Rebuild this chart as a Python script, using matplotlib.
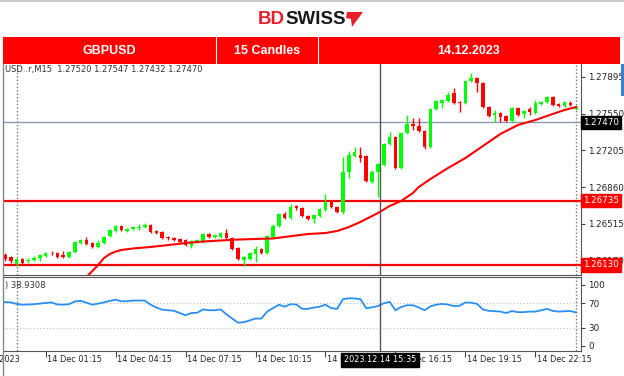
import matplotlib
matplotlib.use("Agg")
import matplotlib.pyplot as plt
from matplotlib.patches import Rectangle, Polygon
from matplotlib.transforms import blended_transform_factory

W, H = 624, 376

# GBPUSD M15, bar index 0 = 14 Dec 2023 00:00
bars = list(range(-2, 97))
opens = [1.26224, 1.26205, 1.26139, 1.26186, 1.26167, 1.26177, 1.26195, 1.26214, 1.26247, 1.26242,
         1.26224, 1.26205, 1.26252, 1.26336, 1.26364, 1.26336, 1.26299, 1.26336, 1.26402, 1.26449,
         1.26496, 1.26449, 1.26468, 1.26477, 1.26486, 1.26505, 1.26449, 1.26440, 1.26393, 1.26383,
         1.26374, 1.26364, 1.26308, 1.26346, 1.26346, 1.26421, 1.26393, 1.26393, 1.26430, 1.26383,
         1.26289, 1.26177, 1.26186, 1.26233, 1.26280, 1.26242, 1.26393, 1.26496, 1.26609, 1.26571,
         1.26684, 1.26665, 1.26590, 1.26562, 1.26590, 1.26646, 1.26731, 1.26674, 1.26628, 1.27003,
         1.27153, 1.27162, 1.27153, 1.26909, 1.27003, 1.27069, 1.27266, 1.27332, 1.27041, 1.27369,
         1.27454, 1.27435, 1.27388, 1.27238, 1.27594, 1.27651, 1.27670, 1.27745, 1.27660, 1.27651,
         1.27857, 1.27886, 1.27839, 1.27613, 1.27538, 1.27557, 1.27529, 1.27482, 1.27604, 1.27548,
         1.27594, 1.27557, 1.27641, 1.27660, 1.27707, 1.27641, 1.27623, 1.27651, 1.27594]
highs = [1.26242, 1.26214, 1.26195, 1.26195, 1.26195, 1.26214, 1.26233, 1.26252, 1.26266, 1.26252,
         1.26261, 1.26261, 1.26355, 1.26374, 1.26393, 1.26346, 1.26364, 1.26402, 1.26468, 1.26505,
         1.26505, 1.26477, 1.26496, 1.26515, 1.26524, 1.26515, 1.26458, 1.26449, 1.26402, 1.26393,
         1.26383, 1.26374, 1.26364, 1.26374, 1.26430, 1.26430, 1.26421, 1.26440, 1.26468, 1.26393,
         1.26299, 1.26214, 1.26252, 1.26308, 1.26289, 1.26411, 1.26515, 1.26618, 1.26628, 1.26702,
         1.26693, 1.26674, 1.26599, 1.26609, 1.26665, 1.26796, 1.26740, 1.26684, 1.27144, 1.27200,
         1.27238, 1.27238, 1.27162, 1.27022, 1.27088, 1.27275, 1.27379, 1.27341, 1.27379, 1.27538,
         1.27510, 1.27510, 1.27397, 1.27604, 1.27679, 1.27688, 1.27754, 1.27792, 1.27670, 1.27867,
         1.27933, 1.27895, 1.27848, 1.27623, 1.27585, 1.27566, 1.27538, 1.27613, 1.27613, 1.27585,
         1.27613, 1.27679, 1.27670, 1.27717, 1.27717, 1.27651, 1.27670, 1.27670, 1.27623]
lows = [1.26167, 1.26149, 1.26120, 1.26139, 1.26149, 1.26167, 1.26167, 1.26205, 1.26224, 1.26195,
        1.26195, 1.26195, 1.26242, 1.26327, 1.26317, 1.26289, 1.26289, 1.26327, 1.26393, 1.26440,
        1.26449, 1.26440, 1.26458, 1.26458, 1.26477, 1.26430, 1.26421, 1.26374, 1.26364, 1.26355,
        1.26336, 1.26308, 1.26289, 1.26336, 1.26336, 1.26383, 1.26383, 1.26383, 1.26374, 1.26271,
        1.26177, 1.26120, 1.26177, 1.26158, 1.26233, 1.26233, 1.26383, 1.26486, 1.26562, 1.26562,
        1.26646, 1.26580, 1.26552, 1.26524, 1.26580, 1.26637, 1.26665, 1.26618, 1.26609, 1.26946,
        1.27144, 1.27097, 1.26909, 1.26900, 1.26768, 1.27059, 1.27256, 1.27031, 1.27031, 1.27360,
        1.27397, 1.27379, 1.27219, 1.27228, 1.27585, 1.27604, 1.27660, 1.27641, 1.27566, 1.27641,
        1.27848, 1.27754, 1.27604, 1.27519, 1.27472, 1.27472, 1.27472, 1.27472, 1.27529, 1.27510,
        1.27538, 1.27548, 1.27632, 1.27651, 1.27623, 1.27613, 1.27613, 1.27623, 1.27585]
closes = [1.26186, 1.26167, 1.26186, 1.26149, 1.26181, 1.26195, 1.26224, 1.26242, 1.26238, 1.26205,
          1.26205, 1.26252, 1.26346, 1.26364, 1.26327, 1.26299, 1.26336, 1.26393, 1.26458, 1.26496,
          1.26458, 1.26468, 1.26486, 1.26491, 1.26505, 1.26440, 1.26430, 1.26383, 1.26379, 1.26364,
          1.26350, 1.26317, 1.26355, 1.26364, 1.26421, 1.26393, 1.26411, 1.26430, 1.26383, 1.26280,
          1.26186, 1.26205, 1.26242, 1.26280, 1.26242, 1.26402, 1.26496, 1.26609, 1.26571, 1.26674,
          1.26665, 1.26590, 1.26562, 1.26599, 1.26655, 1.26721, 1.26674, 1.26628, 1.27003, 1.27162,
          1.27191, 1.27134, 1.26918, 1.27003, 1.27078, 1.27266, 1.27332, 1.27041, 1.27369, 1.27454,
          1.27435, 1.27388, 1.27238, 1.27594, 1.27670, 1.27679, 1.27726, 1.27651, 1.27651, 1.27857,
          1.27886, 1.27839, 1.27613, 1.27529, 1.27557, 1.27519, 1.27482, 1.27604, 1.27538, 1.27576,
          1.27566, 1.27651, 1.27660, 1.27707, 1.27632, 1.27623, 1.27660, 1.27632, 1.27613]

# moving average
ma_bars = [11, 12, 13, 14, 15, 16, 17, 18, 20, 23, 26, 29, 32, 35, 38, 41, 44, 46, 48, 50,
           53, 55, 57, 59, 61, 62, 64, 66, 68, 69, 71, 74, 77, 80, 83, 86, 89, 92, 94, 96]
ma_vals = [1.25970, 1.26017, 1.26073, 1.26130, 1.26195, 1.26233, 1.26256, 1.26271, 1.26285, 1.26299,
           1.26317, 1.26336, 1.26350, 1.26360, 1.26369, 1.26374, 1.26379, 1.26393, 1.26407, 1.26421,
           1.26430, 1.26449, 1.26486, 1.26534, 1.26590, 1.26618, 1.26684, 1.26731, 1.26806, 1.26862,
           1.26937, 1.27040, 1.27134, 1.27247, 1.27360, 1.27444, 1.27491, 1.27548, 1.27585, 1.27613]

rsi = [72, 71.5, 69, 67.7, 68, 68.5, 69.5, 70.5, 71.4, 68,
       67.7, 68.6, 73, 74, 71, 67.7, 69.5, 71.4, 74, 76,
       73.2, 73.5, 74.5, 74.5, 74.5, 67.7, 63, 59.5, 58.6, 57.7,
       54, 50.5, 54, 54.5, 60, 58.6, 58.6, 60, 52, 45,
       38.2, 39, 42, 45, 45, 56.4, 62, 67.7, 64.5, 68.6,
       68, 60.9, 60.9, 63, 64.5, 67.7, 62, 60.9, 76.8, 78.2,
       78, 76.8, 61.8, 63.5, 65.5, 70, 72.3, 58.6, 64, 66.8,
       66.8, 63, 58.6, 65, 67.7, 69, 68, 65.5, 66, 71.4,
       71, 69, 60, 57.7, 57, 56.4, 54, 57.3, 55.5, 55.5,
       56.4, 56.4, 58.6, 60.9, 57.5, 56.4, 57, 57.3, 55]

price_ticks = [1.27895, 1.27550, 1.27205, 1.26860, 1.26515, 1.26170]
rsi_ticks = [100, 70, 30, 0]
level_lines = [1.26735, 1.26130]
bid_price = 1.27470
time_bars = [-8.5, 5, 17, 29, 41, 53, 65, 77, 89]
time_labels = ["13 Dec 2023", "14 Dec 01:15", "14 Dec 04:15", "14 Dec 07:15", "14 Dec 10:15",
               "14 Dec 13:15", "14 Dec 16:15", "14 Dec 19:15", "14 Dec 22:15"]
cross_bar = 62.33
cross_label = "2023.12.14 15:35"
day_seps = [0, 96]

GREEN = "#00ff00"
RED = "#ff0000"
plt.rcParams["font.family"] = ["DejaVu Sans"]


def box(x0, y0, x1, y1):
    return [x0 / W, 1 - y1 / H, (x1 - x0) / W, (y1 - y0) / H]


fig = plt.figure(figsize=(W / 100, H / 100), dpi=100)
fig.patch.set_facecolor("white")

xlim = (-2.32, 96.83)

# ---- price panel
ax = fig.add_axes(box(3, 64, 581, 275))
for b, o, h, l, c in zip(bars, opens, highs, lows, closes):
    col = GREEN if c >= o else RED
    ax.vlines(b, l, h, color=col, lw=1, zorder=3)
    ax.bar(b, max(abs(c - o), 0.00003), bottom=min(o, c), width=0.62, color=col, lw=0, zorder=4)
ax.plot(ma_bars, ma_vals, color=RED, lw=1.5, zorder=5)
for lv in level_lines:
    ax.axhline(lv, color=RED, lw=1.6, zorder=2)
ax.axhline(bid_price, color="#8a9ab0", lw=1, zorder=2)
for d in day_seps:
    ax.axvline(d, color="#777777", lw=1, ls=(0, (1, 1.5)), zorder=1)
ax.axvline(cross_bar, color="#555555", lw=1, zorder=6)

ax.set_xticks([])
ax.yaxis.tick_right()
ax.set_yticks(price_ticks)
ax.set_yticklabels(["%.5f" % p for p in price_ticks], fontsize=6.3, color="#222222")
ax.tick_params(axis="y", length=3, width=0.8, pad=2, color="#444444")
ax.set_xlim(*xlim)
ax.set_ylim(1.26036, 1.28017)
for s in ["top", "left"]:
    ax.spines[s].set_visible(False)
ax.spines["right"].set_color("#555555")
ax.spines["bottom"].set_color("#555555")

tr = blended_transform_factory(ax.transAxes, ax.transData)
for lv in level_lines:
    ax.text(1.003, lv, "%.5f" % lv, transform=tr, fontsize=6.3, color="white", va="center",
            ha="left", bbox=dict(boxstyle="square,pad=0.25", fc=RED, ec=RED), zorder=10, clip_on=False)
ax.text(1.003, bid_price, "%.5f" % bid_price, transform=tr, fontsize=6.3, color="white", va="center",
        ha="left", bbox=dict(boxstyle="square,pad=0.25", fc="black", ec="black"), zorder=10, clip_on=False)

# ---- RSI panel
ax2 = fig.add_axes(box(3, 277, 581, 351))
ax2.plot(bars, rsi, color="#2b8ff0", lw=1.3, zorder=4)
for lv in [70, 30]:
    ax2.axhline(lv, color="#bbbbbb", lw=0.8, ls=(0, (1, 2)), zorder=1)
for d in day_seps:
    ax2.axvline(d, color="#777777", lw=1, ls=(0, (1, 1.5)), zorder=1)
ax2.axvline(cross_bar, color="#555555", lw=1, zorder=6)
ax2.yaxis.tick_right()
ax2.set_yticks(rsi_ticks)
ax2.set_yticklabels([str(t) for t in rsi_ticks], fontsize=6.3, color="#222222")
ax2.tick_params(axis="y", length=3, width=0.8, pad=2, color="#444444")
ax2.set_xticks(time_bars[1:])
ax2.set_xticklabels([])
ax2.tick_params(axis="x", length=4, width=0.8, color="#444444")
ax2.set_xlim(*xlim)
ax2.set_ylim(-8.2, 113.1)
ax2.spines["left"].set_visible(False)
for s in ["top", "right", "bottom"]:
    ax2.spines[s].set_color("#555555")
ax2.text(0.004, 0.88, ") 38.9308", transform=ax2.transAxes, fontsize=6, color="#333333", va="center")
trx = blended_transform_factory(ax2.transData, ax2.transAxes)
for b, lab in zip(time_bars, time_labels):
    ax2.text(b + 0.2, -0.12, lab, transform=trx, fontsize=5.9, color="#222222", ha="left", va="center",
             clip_on=False)
ax2.text(cross_bar, -0.12, cross_label, transform=trx, fontsize=5.9, color="white", ha="center",
         va="center", bbox=dict(boxstyle="square,pad=0.3", fc="black", ec="black"), zorder=10, clip_on=False)

# ---- overlay: header, logo, frame
ov = fig.add_axes([0, 0, 1, 1], zorder=10)
ov.set_xlim(0, W)
ov.set_ylim(H, 0)
ov.axis("off")
ov.axhline(1, color="#cccccc", lw=1.5)
ov.plot([3, 3], [64, 376], color="#888888", lw=1)
ov.add_patch(Rectangle((3, 37), 617, 27, fc=RED, ec="none"))
for xd in [216, 318]:
    ov.plot([xd, xd], [37, 64], color="white", lw=0.8)
ov.text(109.5, 51, "GBPUSD", color="white", fontsize=9, fontweight="bold",
        family="Liberation Sans", ha="center", va="center")
ov.text(267, 51, "15 Candles", color="white", fontsize=9, fontweight="bold",
        family="Liberation Sans", ha="center", va="center")
ov.text(469, 51, "14.12.2023", color="white", fontsize=9, fontweight="bold",
        family="Liberation Sans", ha="center", va="center")
ov.text(5, 69.5, "USD..r,M15  1.27520 1.27547 1.27432 1.27470", fontsize=6, color="#333333",
        ha="left", va="center")
ov.text(285, 19, "BD", color="#e8202a", fontsize=13.5, fontweight="bold", family="Liberation Sans",
        ha="right", va="center")
ov.text(285, 19, "SWISS", color="#1a1a1a", fontsize=13.5, fontweight="bold", family="Liberation Sans",
        ha="left", va="center")
ov.add_patch(Polygon([(347, 12), (363, 12), (352, 27), (351, 19), (346, 18)], closed=True,
                     fc="#e8202a", ec="none"))
ov.add_patch(Rectangle((621, 64), 3, 32, fc="#3a7fd5", ec="none"))

fig.savefig("out.png", dpi=100, facecolor="white")
